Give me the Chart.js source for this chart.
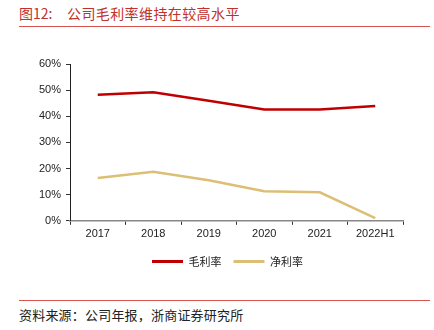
<!DOCTYPE html>
<html>
<head>
<meta charset="utf-8">
<script src="https://cdn.jsdelivr.net/npm/chart.js@4.4.0/dist/chart.umd.min.js"></script>
<style>
  html, body { margin: 0; padding: 0; background: #fff; }
  body { width: 434px; height: 330px; position: relative; overflow: hidden; }
  .title {
    position: absolute; top: 3px;
    font: 14px "Noto Sans CJK SC", sans-serif; color: #c0302c; white-space: pre;
  }
  .rule { position: absolute; left: 19px; width: 411px; height: 1px; background: #d9534f; }
  .src {
    position: absolute; left: 19px; top: 305px;
    font: 13px "Noto Sans CJK SC", sans-serif; color: #222; letter-spacing: 0.2px;
  }
  .wrap { position: absolute; left: 0; top: 40px; width: 434px; height: 245px; }
</style>
</head>
<body>
<div class="title" style="left:19px">图12:</div>
<div class="title" style="left:67px; letter-spacing:0.4px">公司毛利率维持在较高水平</div>
<div class="rule" style="top:26px"></div>
<div class="wrap"><canvas id="c"></canvas></div>
<div class="rule" style="top:300px"></div>
<div class="src">资料来源：公司年报，浙商证券研究所</div>

<script>
// data
const years = ["2017", "2018", "2019", "2020", "2021", "2022H1"];
const grossMargin = [48.2, 49.2, 45.9, 42.6, 42.6, 43.9];
const netMargin = [16.4, 18.8, 15.5, 11.3, 10.9, 1.0];

const red = "#c00000";
const gold = "#dcbf74";

// legend sits a bit right of the canvas centre in the original
const legendShift = {
  id: "legendShift",
  afterUpdate(chart) {
    const lg = chart.legend;
    lg.left += 26;
    lg.right += 26;
    lg.adjustHitBoxes();
  },
};

new Chart(document.getElementById("c"), {
  type: "line",
  data: {
    labels: years,
    datasets: [
      { label: "毛利率", data: grossMargin, borderColor: red, backgroundColor: red,
        borderWidth: 2.5, pointRadius: 0, tension: 0 },
      { label: "净利率", data: netMargin, borderColor: gold, backgroundColor: gold,
        borderWidth: 2.5, pointRadius: 0, tension: 0 },
    ],
  },
  plugins: [legendShift],
  options: {
    responsive: true,
    maintainAspectRatio: false,
    animation: false,
    layout: { padding: { top: 24, right: 31, left: 0, bottom: 8 } },
    plugins: {
      tooltip: { enabled: false },
      legend: {
        position: "bottom",
        labels: {
          boxWidth: 31, boxHeight: 3, padding: 12, color: "#222",
          font: { family: "'Noto Sans CJK SC'", size: 11 },
          generateLabels: (chart) => {
            const items = Chart.defaults.plugins.legend.labels.generateLabels(chart);
            items.forEach((it) => { it.lineWidth = 0; });
            return items;
          },
        },
      },
    },
    scales: {
      x: {
        offset: true,
        grid: { offset: true, drawOnChartArea: false, drawTicks: true, tickLength: 4, color: "#333" },
        border: { color: "#888", width: 1.5 },
        ticks: { color: "#222", padding: 3, font: { family: "'Liberation Sans'", size: 11 } },
      },
      y: {
        min: 0, max: 60,
        afterFit: (s) => { s.width = 70; },
        grid: { drawOnChartArea: false, drawTicks: true, tickLength: 4, color: "#333" },
        border: { color: "#222", width: 1 },
        ticks: {
          stepSize: 10, color: "#222", padding: 5,
          font: { family: "'Liberation Sans'", size: 11 },
          callback: (v) => v + "%",
        },
      },
    },
  },
});
</script>
</body>
</html>
